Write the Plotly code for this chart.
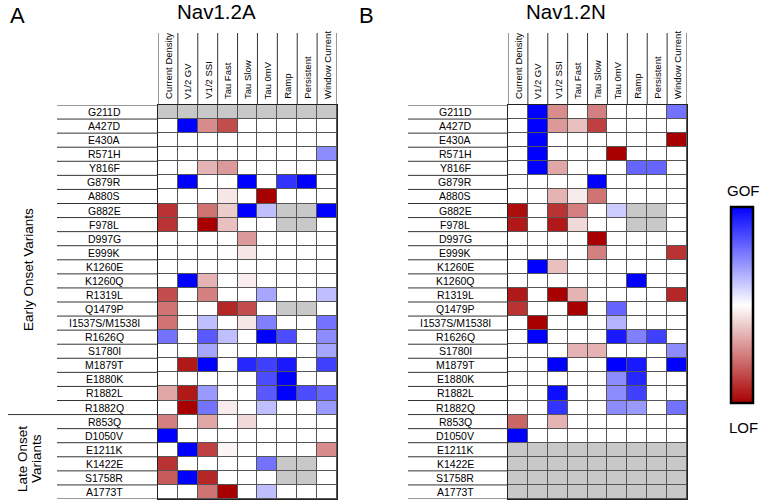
import plotly.graph_objects as go

W, H = 763, 501

params = ["Current Density", "V1/2 GV", "V1/2 SSI", "Tau Fast", "Tau Slow",
          "Tau 0mV", "Ramp", "Persistent", "Window Current"]
variants = ["G211D", "A427D", "E430A", "R571H", "Y816F", "G879R", "A880S", "G882E",
            "F978L", "D997G", "E999K", "K1260E", "K1260Q", "R1319L", "Q1479P",
            "I1537S/M1538I", "R1626Q", "S1780I", "M1879T", "E1880K", "R1882L",
            "R1882Q", "R853Q", "D1050V", "E1211K", "K1422E", "S1758R", "A1773T"]
n_early = 22

G = None  # not measured (grey)

nav12a = [
    [G, G, G, G, G, G, G, G, G],
    [0, 1, -0.45, -0.7, 0, 0, 0, 0, 0],
    [0, 0, 0, 0, 0, 0, 0, 0, 0],
    [0, 0, 0, 0, 0, 0, 0, 0, 0.45],
    [0, 0, -0.3, -0.4, 0, 0, 0, 0, 0],
    [0, 1, 0, 0, 1, 0, 0.8, 1, 0],
    [0, 0, 0, -0.1, 0, -1, 0, 0, 0],
    [-0.8, 0, -0.55, -0.2, 1, 0.25, G, G, 1],
    [-0.8, 0, -1, -0.25, 0, 0, G, G, 0],
    [0, 0, 0, 0, -0.4, 0, 0, 0, 0],
    [0, 0, 0, 0, -0.1, 0, 0, 0, 0],
    [0, 0, 0, 0, 0, 0, 0, 0, 0],
    [0, 1, -0.3, 0, -0.07, 0, 0, 0, 0],
    [-0.7, 0, -0.5, 0, 0, 0.35, 0, 0, 0.25],
    [-0.55, 0, 0, -0.85, -0.7, 0, G, G, 0],
    [-0.55, 0, 0.25, 0, -0.1, 0.5, 0, 0, 0.55],
    [0.55, 0, 0.65, 0.25, 0, 1, 0.7, 0, 0.45],
    [0, 0, 0.35, 0, 0, 0, 0, 0, 0.35],
    [0, -0.9, 1, 0, 0.85, 0.75, 0.9, 0, 0.75],
    [0, 0, 0, 0, 0, 0.7, 1, 0, 0],
    [-0.35, -0.9, 0.4, 0, 0, 0.65, 1, 0.7, 0.6],
    [0, -1, 0.55, -0.08, 0, 0.25, 0, 0, 0.4],
    [-0.5, 0, -0.35, 0, -0.15, 0, 0, 0, 0],
    [1, 0, 0, 0, 0, 0, 0, 0, 0],
    [0, 1, -0.75, -0.04, 0, 0, 0, 0, -0.45],
    [-0.8, 0, 0, 0, 0, 0.55, G, G, 0],
    [-0.65, 1, -0.85, 0, 0, 0, G, G, 0],
    [0, 0, -0.55, -1, 0, 0.25, 0, 0, 0],
]

nav12n = [
    [0, 1, -0.45, 0, -0.5, 0, 0, 0, 0.55],
    [0, 1, -0.4, -0.25, -0.75, 0, 0, 0, 0],
    [0, 1, 0, 0, 0, 0, 0, 0, -1],
    [0, 1, 0, 0, 0, -1, 0, 0, 0],
    [0, 1, -0.35, 0, 0, 0, 0.6, 0.6, 0],
    [0, 0, 0, 0, 1, 0, 0, 0, 0],
    [0, 0, -0.3, -0.08, -0.55, 0, 0, 0, 0],
    [-0.95, 0, -0.8, -0.5, 0, 0.2, G, G, 0],
    [-0.9, 0, -0.9, -0.15, 0, 0, G, G, 0],
    [0, 0, 0, 0, -1, 0, 0, 0, 0],
    [0, 0, 0, 0, -0.5, 0, 0, 0, -0.8],
    [0, 1, -0.25, 0, 0, 0, 0, 0, 0],
    [0, 0, 0, 0, 0, 0, 1, 0, 0],
    [-0.9, 0, -1, -0.3, 0, 0, 0, 0, -0.85],
    [-0.8, 0, 0, -1, 0, 0.6, 0, 0, 0],
    [0, -1, 0, 0, 0, 0.3, 0, 0, 0],
    [0, 1, 0, 0, 0, 0.9, 0.5, 0.75, 0],
    [0, 0, 0, -0.3, -0.3, 0, 0, 0, 0.45],
    [0, 0, 1, 0, 0, 1, 0.9, 0, 1],
    [0, 0, 0, 0, 0, 0.45, 0.85, 0, 0],
    [0, 0, 0.95, 0, 0, 0.45, 0.75, 0, 0],
    [0, 0, 0.8, 0, 0, 0.45, 0.4, 0, 0.55],
    [-0.6, 0, -0.3, 0, 0, 0, 0, 0, 0],
    [1, 0, 0, 0, 0, 0, 0, 0, 0],
    [G, G, G, G, G, G, G, G, G],
    [G, G, G, G, G, G, G, G, G],
    [G, G, G, G, G, G, G, G, G],
    [G, G, G, G, G, G, G, G, G],
]

FONT = "Liberation Sans, Arial, sans-serif"
NARROW = "Liberation Sans Narrow, Arial Narrow, Liberation Sans, Arial, sans-serif"
colorscale = [[0.0, "rgb(168,0,0)"], [0.5, "rgb(255,255,255)"], [1.0, "rgb(0,0,255)"]]
GREY = "rgb(200,200,200)"

def px_x(x):
    return x / W

def px_y(y):
    return 1 - y / H

fig = go.Figure()
xs = list(range(len(params)))
ys = list(range(len(variants)))

panels = [
    ("x", "y", nav12a, True),
    ("x2", "y2", nav12n, False),
]
for xa, ya, data, show in panels:
    grey = [[1 if v is None else None for v in row] for row in data]
    fig.add_trace(go.Heatmap(z=grey, x=xs, y=ys, xaxis=xa, yaxis=ya,
                             colorscale=[[0, GREY], [1, GREY]], showscale=False,
                             xgap=1, ygap=1, hoverinfo="skip"))
    fig.add_trace(go.Heatmap(
        z=data, x=xs, y=ys, xaxis=xa, yaxis=ya, zmin=-1, zmax=1,
        colorscale=colorscale, xgap=1, ygap=1, showscale=show,
        colorbar=dict(x=px_x(731), xanchor="left", y=px_y(305), yanchor="middle",
                      lenmode="pixels", len=196, thickness=22, thicknessmode="pixels",
                      outlinewidth=2.5, outlinecolor="black", showticklabels=False,
                      ticks="", xpad=0, ypad=0) if show else None,
    ))

grid_left = (158, 337)
grid_right = (508, 687)
grid_top, grid_bot = 105, 499

axis_common = dict(showgrid=False, zeroline=False, showticklabels=False, ticks="",
                   showline=True, mirror=True, linecolor="#222", linewidth=1)
fig.update_layout(
    xaxis=dict(domain=[px_x(grid_left[0]), px_x(grid_left[1])], range=[-0.5, 8.5], **axis_common),
    yaxis=dict(domain=[px_y(grid_bot), px_y(grid_top)], range=[27.5, -0.5], **axis_common),
    xaxis2=dict(domain=[px_x(grid_right[0]), px_x(grid_right[1])], range=[-0.5, 8.5],
                anchor="y2", **axis_common),
    yaxis2=dict(domain=[px_y(grid_bot), px_y(grid_top)], range=[27.5, -0.5],
                anchor="x2", **axis_common),
)

shapes = []
annotations = []
line_col = "#333"
for xa, ya, lab_start, lab_center, gl in [("x", "y", 57, 104, grid_left),
                                          ("x2", "y2", 408, 455, grid_right)]:
    for i in range(len(variants) + 1):
        shapes.append(dict(type="line", xref="paper", yref=ya,
                           x0=px_x(lab_start), x1=px_x(gl[0]), y0=i - 0.5, y1=i - 0.5,
                           line=dict(color=line_col, width=1)))
    for j in range(len(params) + 1):
        shapes.append(dict(type="line", xref=xa, yref="paper",
                           x0=j - 0.5, x1=j - 0.5, y0=px_y(grid_top), y1=px_y(33),
                           line=dict(color=line_col, width=1)))
    for i, v in enumerate(variants):
        annotations.append(dict(text=v, xref="paper", yref=ya, x=px_x(lab_center), y=i,
                                xanchor="center", yanchor="middle", showarrow=False,
                                font=dict(family=NARROW, size=10.5, color="black")))
    for j, p in enumerate(params):
        annotations.append(dict(text=p, xref=xa, yref="paper", x=j, y=px_y(101),
                                xanchor="center", yanchor="bottom", textangle=-90,
                                showarrow=False,
                                font=dict(family=FONT, size=9.5, color="black")))

shapes.append(dict(type="line", xref="paper", yref="y", x0=px_x(8), x1=px_x(57),
                   y0=n_early - 0.5, y1=n_early - 0.5, line=dict(color=line_col, width=1)))

def ann(text, x, y, size, angle=0):
    return dict(text=text, xref="paper", yref="paper", x=px_x(x), y=px_y(y),
                xanchor="center", yanchor="middle", showarrow=False, textangle=angle,
                font=dict(family=FONT, size=size, color="black"))

annotations += [
    ann("Early Onset Variants", 28, 270, 13.5, -90),
    ann("Late Onset", 22, 459, 13.5, -90),
    ann("Variants", 36, 459, 13.5, -90),
    ann("A", 17, 16, 22),
    ann("B", 366, 16, 22),
    ann("Nav1.2A", 216, 12, 20.5),
    ann("Nav1.2N", 566, 12, 20.5),
    ann("GOF", 743, 190, 15),
    ann("LOF", 743, 427, 15),
]

fig.update_layout(
    width=W, height=H, margin=dict(l=0, r=0, t=0, b=0),
    paper_bgcolor="white", plot_bgcolor="#555",
    shapes=shapes, annotations=annotations, showlegend=False,
)

fig.write_html("out.html", config={"displayModeBar": False},
               post_script="document.body.style.margin='0';document.body.style.overflow='hidden';")
